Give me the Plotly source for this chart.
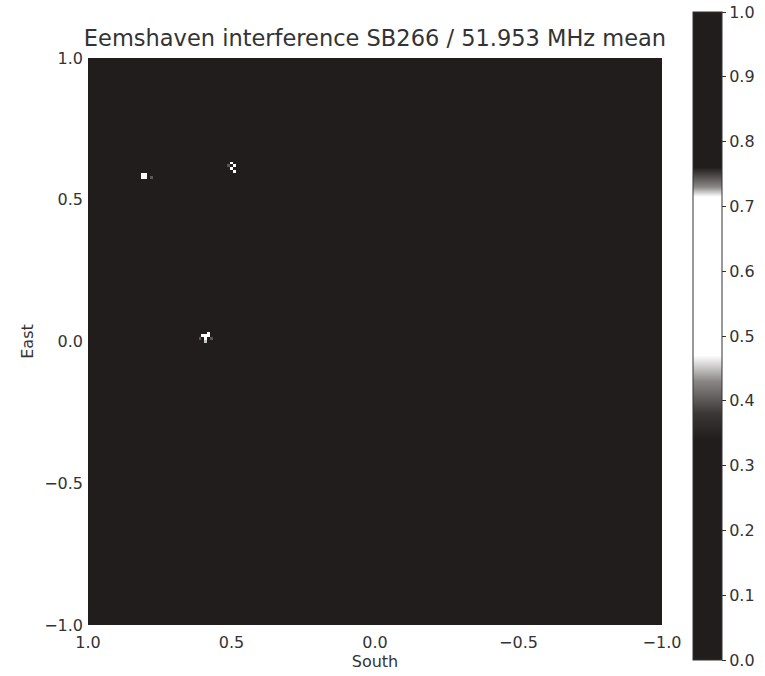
import numpy as np
import plotly.graph_objects as go

# Grid extent (direction cosines)
grid_min, grid_max, grid_n = -1.0, 1.0, 201
background_level = 0.05

# Bright interference sources: (South, East, value)
spot_south = [0.80, 0.81, 0.80, 0.81, 0.78, 0.50, 0.49, 0.50, 0.49, 0.51, 0.59, 0.58, 0.59, 0.60, 0.58, 0.59, 0.61, 0.57]
spot_east  = [0.58, 0.58, 0.59, 0.59, 0.58, 0.63, 0.62, 0.61, 0.60, 0.62, 0.02, 0.02, 0.01, 0.02, 0.03, 0.00, 0.01, 0.01]
spot_value = [0.60, 0.60, 0.60, 0.55, 0.40, 0.60, 0.60, 0.55, 0.60, 0.40, 0.60, 0.60, 0.60, 0.55, 0.55, 0.45, 0.40, 0.40]

colorbar_ticks = [0.0, 0.1, 0.2, 0.3, 0.4, 0.5, 0.6, 0.7, 0.8, 0.9, 1.0]
axis_ticks = [1.0, 0.5, 0.0, -0.5, -1.0]


def fmt(t):
    return f"{t:.1f}".replace("-", "\u2212")


coords = np.linspace(grid_min, grid_max, grid_n)
z = np.full((grid_n, grid_n), background_level)
for sx, sy, v in zip(spot_south, spot_east, spot_value):
    i = int(round((sy - grid_min) / (grid_max - grid_min) * (grid_n - 1)))
    j = int(round((sx - grid_min) / (grid_max - grid_min) * (grid_n - 1)))
    z[i, j] = v

dark = "#221d1d"
colorscale = [
    [0.0, dark], [0.34, dark], [0.38, "#3c3737"], [0.43, "#8a8686"],
    [0.47, "#ffffff"], [0.715, "#ffffff"], [0.73, "#8a8686"], [0.76, dark], [1.0, dark],
]

L, R, T, B = 88, 103, 58, 51
W, H = 765, 676
plot_h = H - T - B
plot_w = W - L - R

fig = go.Figure(go.Heatmap(
    x=coords, y=coords, z=z, zmin=0, zmax=1,
    colorscale=colorscale,
    colorbar=dict(
        x=(693 - L) / plot_w, xanchor="left", xpad=0, ypad=0,
        y=1 - ((12 + 660) / 2 - T) / plot_h, yanchor="middle",
        len=648 / plot_h, lenmode="fraction",
        thickness=29, thicknessmode="pixels",
        outlinewidth=1, outlinecolor="#333",
        tickvals=colorbar_ticks, ticktext=[fmt(t) for t in colorbar_ticks],
        ticks="outside", ticklen=4, tickcolor="#333",
        tickfont=dict(family="DejaVu Sans", size=16, color="#333"),
    ),
    showscale=True,
))

font = dict(family="DejaVu Sans", size=16, color="#333")
fig.update_layout(
    width=W, height=H,
    margin=dict(l=L, r=R, t=T, b=B, autoexpand=False),
    paper_bgcolor="white", plot_bgcolor=dark,
    title=dict(text="Eemshaven interference SB266 / 51.953 MHz mean",
               x=(L + plot_w / 2) / W, xanchor="center",
               y=1 - 38 / H, yanchor="middle",
               font=dict(family="DejaVu Sans", size=22.5, color="#333")),
    xaxis=dict(range=[1, -1], tickvals=axis_ticks, ticktext=[fmt(t) for t in axis_ticks],
               showgrid=False, zeroline=False, ticks="", tickfont=font, ticklabelstandoff=6,
               title=dict(text="South", font=font, standoff=2)),
    yaxis=dict(range=[-1, 1], tickvals=axis_ticks, ticktext=[fmt(t) for t in axis_ticks],
               showgrid=False, zeroline=False, ticks="", tickfont=font, ticklabelstandoff=4,
               title=dict(text="East", font=font, standoff=6)),
)

fig.write_html("out.html")
